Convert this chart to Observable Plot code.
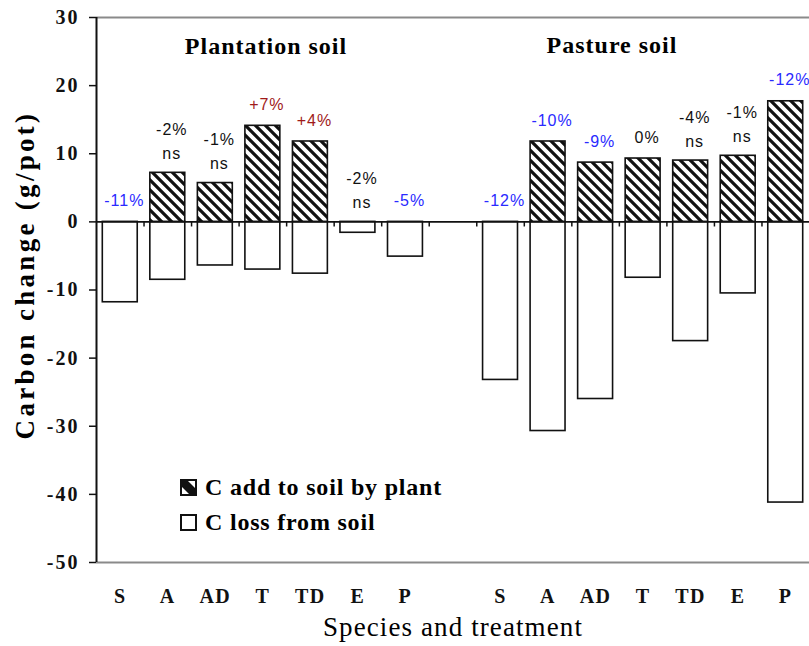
<!DOCTYPE html>
<html>
<head>
<meta charset="utf-8">
<script src="https://cdn.jsdelivr.net/npm/d3@7"></script>
<script src="https://cdn.jsdelivr.net/npm/@observablehq/plot@0.6"></script>
<style>
  body { margin: 0; background: #fff; }
  #wrap { position: relative; width: 809px; height: 646px; overflow: hidden; }
  .serif { font-family: "Liberation Serif", "Times New Roman", serif; color: #000; position: absolute; white-space: nowrap; }
  #wrap svg text { font-family: "Liberation Serif", "Times New Roman", serif; }
  #wrap svg .yaxis text { font-weight: bold; letter-spacing: 2px; }
  #wrap svg .xaxis text { font-weight: bold; letter-spacing: 1.5px; }
  #wrap svg .pctlab text { font-family: "Liberation Sans", Arial, sans-serif; letter-spacing: 1px; }
</style>
</head>
<body>
<div id="wrap"></div>
<script>
// ---- data ----
const categories = ["S", "A", "AD", "T", "TD", "E", "P"];
const plantationAdded = [null, 7.2, 5.7, 14.1, 11.8, null, null];
const plantationLoss = [-11.8, -8.5, -6.4, -7.0, -7.6, -1.6, -5.1];
const pastureAdded = [null, 11.8, 8.7, 9.3, 9.0, 9.7, 17.7];
const pastureLoss = [-23.2, -30.7, -26.0, -8.2, -17.5, -10.5, -41.2];
const plantationPct = ["-11%", "-2%", "-1%", "+7%", "+4%", "-2%", "-5%"];
const plantationSig = ["", "ns", "ns", "", "", "ns", ""];
const plantationEffect = ["down", "ns", "ns", "up", "up", "ns", "down"];
const pasturePct = ["-12%", "-10%", "-9%", "0%", "-4%", "-1%", "-12%"];
const pastureSig = ["", "", "", "", "ns", "ns", ""];
const pastureEffect = ["down", "down", "down", "ns", "ns", "ns", "down"];
const yTicks = [-50, -40, -30, -20, -10, 0, 10, 20, 30];
const groups = ["Plantation soil", "Pasture soil"];
const seriesNames = ["C add to soil by plant", "C loss from soil"];

// ---- build rows ----
const effectColor = {down: "#2a2aff", up: "#a01a1a", ns: "#111111"};
const rows = [];
function addGroup(offset, added, loss, pct, sig, effect) {
  categories.forEach((c, i) => {
    rows.push({slot: offset + i, slot2: offset + i + 1, center: offset + i + 0.5, cat: c,
      added: added[i], loss: loss[i], pct: pct[i], sig: sig[i],
      color: effectColor[effect[i]], top: Math.max(added[i] ?? 0, 0)});
  });
}
addGroup(0, plantationAdded, plantationLoss, plantationPct, plantationSig, plantationEffect);
addGroup(8, pastureAdded, pastureLoss, pasturePct, pastureSig, pastureEffect);
const addedRows = rows.filter(d => d.added != null);
const sigRows = rows.filter(d => d.sig);
const plainRows = rows.filter(d => !d.sig);
const labelOf = new Map(rows.map(d => [d.center, d.cat]));
const boundaries = d3.range(1, 15);

const chart = Plot.plot({
  width: 809,
  height: 646,
  marginLeft: 96,
  marginRight: 0,
  marginTop: 17,
  marginBottom: 84,
  x: {domain: [0, 15], axis: null},
  y: {domain: [-50, 30], axis: null},
  color: {type: "identity"},
  style: {background: "white"},
  marks: [
    Plot.ruleY([30, -50], {stroke: "#8a8a8a", strokeWidth: 2}),
    Plot.rectY(rows, {x1: "slot", x2: "slot2", y1: 0, y2: "loss", fill: "white", stroke: "#111", strokeWidth: 1.6, insetLeft: 6.3, insetRight: 6.3}),
    Plot.rectY(addedRows, {x1: "slot", x2: "slot2", y1: 0, y2: "added", fill: "url(#hatch)", stroke: "#111", strokeWidth: 1.6, insetLeft: 6.3, insetRight: 6.3}),
    Plot.ruleY([0], {stroke: "#111", strokeWidth: 1.6}),
    Plot.ruleX(boundaries, {y1: 0, y2: -0.75, stroke: "#111", strokeWidth: 1.5}),
    Plot.ruleX([0], {y1: -50, y2: 30, stroke: "#111", strokeWidth: 2}),
    Plot.axisY({ticks: yTicks, tickFormat: d => String(d), tickSize: 7, tickPadding: 10, fontSize: 20, className: "yaxis", stroke: "#111", strokeWidth: 1.5, fill: "#111"}),
    Plot.axisX({ticks: rows.map(d => d.center), tickFormat: d => labelOf.get(d), tickSize: 0, tickPadding: 26, fontSize: 20, className: "xaxis", fill: "#111"}),
    Plot.text(plainRows, {x: "center", y: "top", text: "pct", fill: "color", dx: 4, dy: -21, fontSize: 16, className: "pctlab"}),
    Plot.text(sigRows, {x: "center", y: "top", text: "pct", fill: "color", dx: 4, dy: -43, fontSize: 16, className: "pctlab"}),
    Plot.text(sigRows, {x: "center", y: "top", text: "sig", fill: "#111", dx: 4, dy: -19, fontSize: 16, className: "pctlab"})
  ]
});

// hatch pattern
const svg = d3.select(chart);
const defs = svg.insert("defs", ":first-child");
const pat = defs.append("pattern").attr("id", "hatch").attr("patternUnits", "userSpaceOnUse")
  .attr("width", 10).attr("height", 10);
pat.append("rect").attr("width", 10).attr("height", 10).attr("fill", "white");
pat.append("path").attr("d", "M-5,-5L15,15M5,-5L15,5M-5,5L5,15").attr("stroke", "#111").attr("stroke-width", 3.2);

const wrap = document.getElementById("wrap");
wrap.appendChild(chart);

function addText(txt, css) {
  const d = document.createElement("div");
  d.className = "serif";
  d.textContent = txt;
  Object.assign(d.style, css);
  wrap.appendChild(d);
  return d;
}
// panel titles
addText(groups[0], {left: "166px", width: "200px", textAlign: "center", top: "33px", fontSize: "24px", fontWeight: "bold", lineHeight: "26px", letterSpacing: "1px"});
addText(groups[1], {left: "512px", width: "200px", textAlign: "center", top: "32px", fontSize: "24px", fontWeight: "bold", lineHeight: "26px", letterSpacing: "1px"});
// axis titles
addText("Species and treatment", {left: "253px", width: "400px", textAlign: "center", top: "614px", fontSize: "27px", lineHeight: "27px", letterSpacing: "1.1px"});
addText("Carbon change (g/pot)", {left: "-175px", width: "400px", textAlign: "center", top: "260px", fontSize: "27px", fontWeight: "bold", lineHeight: "30px", letterSpacing: "3.3px", transform: "rotate(-90deg)"});

// legend
function legendItem(name, hatched, top) {
  const row = document.createElement("div");
  row.className = "serif";
  Object.assign(row.style, {left: "180px", top: top + "px", fontSize: "24px", fontWeight: "bold", lineHeight: "24px", letterSpacing: "0.8px", display: "flex", alignItems: "center"});
  const ns = "http://www.w3.org/2000/svg";
  const ic = document.createElementNS(ns, "svg");
  ic.setAttribute("width", 17); ic.setAttribute("height", 17);
  ic.style.marginRight = "8px";
  const r = document.createElementNS(ns, "rect");
  r.setAttribute("x", 1); r.setAttribute("y", 1); r.setAttribute("width", 15); r.setAttribute("height", 15);
  r.setAttribute("fill", "white"); r.setAttribute("stroke", "#111"); r.setAttribute("stroke-width", 2);
  ic.appendChild(r);
  if (hatched) {
    const p = document.createElementNS(ns, "path");
    p.setAttribute("d", "M2,2L8,2L15,9L15,15L9,15L2,8Z");
    p.setAttribute("fill", "#111");
    ic.appendChild(p);
  }
  row.appendChild(ic);
  row.appendChild(document.createTextNode(name));
  wrap.appendChild(row);
}
legendItem(seriesNames[0], true, 475);
legendItem(seriesNames[1], false, 510);
</script>
</body>
</html>
